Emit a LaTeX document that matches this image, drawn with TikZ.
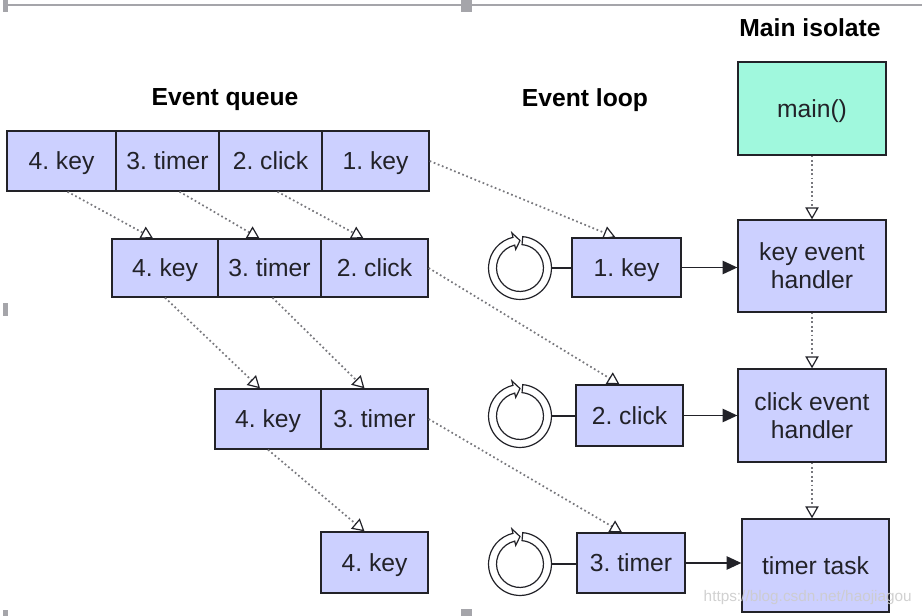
\documentclass[tikz,border=0pt]{standalone}
\usepackage{fontspec}
\setmainfont{Liberation Sans}
\usetikzlibrary{arrows.meta,calc}
\definecolor{qblue}{RGB}{204,208,255}
\definecolor{mint}{RGB}{160,248,221}
\definecolor{ink}{RGB}{34,34,40}
\definecolor{handle}{RGB}{165,165,170}
\definecolor{dots}{RGB}{120,120,125}
\frenchspacing
\newcommand\mkbox[7][cell]{\node[#1, minimum width={(#5-#3)*0.75pt}, minimum height={(#6-#4)*0.75pt}] (#2) at ({(#3+#5)/2},{(#4+#6)/2}) {#7};}
\newcommand\mkring[2]{%
  \node[circle, minimum size=47.25pt, inner sep=0pt] (#1) at (#2) {};
  \begin{scope}[shift={(#1.center)}]
    \draw[ink, line width=0.9pt, fill=white]
      (85:23.6pt) arc[start angle=85, end angle=-257, radius=23.6pt]
      -- (103:27pt) -- (90:20.6pt) -- (103:14.3pt) -- (103:17.6pt)
      arc[start angle=-257, end angle=85, radius=17.6pt] -- cycle;
  \end{scope}}
\begin{document}
\begin{tikzpicture}[x=0.75pt, y=-0.75pt,
  boxbase/.style={draw=ink, line width=1pt, fill=qblue, inner sep=0pt, text=ink,
    font=\fontsize{18.5}{21}\selectfont, align=center},
  cell/.style={boxbase, text height=13.2pt, text depth=0pt},
  twoline/.style={boxbase},
  mainbox/.style={cell, fill=mint},
  title/.style={font=\fontsize{18.5}{21}\selectfont\bfseries, text=black},
  flow/.style={draw=dots, line width=1.3pt, dash pattern=on 1.3pt off 2pt,
    -{Triangle[open, length=9pt, width=10pt, color=ink, line width=0.9pt]}},
  push/.style={draw=ink, line width=1pt, -{Triangle[length=11pt, width=10pt]}},
  link/.style={draw=ink, line width=1pt}]
\useasboundingbox[fill=white] (0,0) rectangle (922,616);
% screenshot frame
\draw[handle, line width=1.6pt] (3,5) -- (922,5);
\fill[handle] (3,0) rectangle (8,12);
\fill[handle] (461,0) rectangle (472,12);
\fill[handle] (3,303) rectangle (8,316);
\fill[handle] (3,610) rectangle (8,616);
\fill[handle] (461,609) rectangle (472,616);
% titles
\node[title] (tq) at (225,100) {Event queue};
\node[title] (tl) at (585,100) {Event loop};
\node[title] (ti) at (810,28) {Main isolate};
% queue rows
\mkbox{a4}{7}{131}{116}{191}{4. key}
\mkbox{a3}{116}{131}{219}{191}{3. timer}
\mkbox{a2}{219}{131}{322}{191}{2. click}
\mkbox{a1}{322}{131}{429}{191}{1. key}
\mkbox{b4}{112}{239}{218}{297}{4. key}
\mkbox{b3}{218}{239}{321}{297}{3. timer}
\mkbox{b2}{321}{239}{428}{297}{2. click}
\mkbox{c4}{215}{389}{321}{449}{4. key}
\mkbox{c3}{321}{389}{428}{449}{3. timer}
\mkbox{d4}{321}{532}{428}{593}{4. key}
% loop
\mkbox{l1}{572}{238}{681}{297}{1. key}
\mkbox{l2}{576}{385}{683}{446}{2. click}
\mkbox{l3}{577}{533}{685}{593}{3. timer}
\mkring{r1}{520,268}
\mkring{r2}{520,416}
\mkring{r3}{520,564}
\draw[link] (r1.east) -- (r1.east -| l1.west);
\draw[link] (r2.east) -- (r2.east -| l2.west);
\draw[link] (r3.east) -- (r3.east -| l3.west);
% isolate
\mkbox[mainbox]{m}{738}{62}{886}{155}{main()}
\mkbox[twoline]{h1}{738}{220}{886}{312}{key event\\handler}
\mkbox[twoline]{h2}{738}{369}{886}{462}{click event\\handler}
\mkbox{h3}{742}{519}{889}{612}{timer task}
\draw[push] (l1.east) -- (l1.east -| h1.west);
\draw[push] (l2.east) -- (l2.east -| h2.west);
\draw[push] (l3.east) -- (l3.east -| h3.west);
% dotted flows
\draw[flow] (a1.east) -- ($(l1.north)+(-11,0)$);
\draw[flow] ($(a4.south)+(6,0)$) -- ($(b4.north)+(-12,0)$);
\draw[flow] ($(a3.south)+(12,0)$) -- ($(b3.north)+(-10,0)$);
\draw[flow] ($(a2.south)+(7,0)$) -- ($(b2.north)+(-11,0)$);
\draw[flow] (b2.east) -- ($(l2.north)+(-10,0)$);
\draw[flow] (b4.south) -- ($(c4.north)+(-8,0)$);
\draw[flow] ($(b3.south)+(3,0)$) -- ($(c3.north)+(-10,0)$);
\draw[flow] (c3.east) -- ($(l3.north)+(-9,0)$);
\draw[flow] (c4.south) -- ($(d4.north)+(-10,0)$);
\draw[flow] (m.south) -- (h1.north);
\draw[flow] (h1.south) -- (h2.north);
\draw[flow] (h2.south) -- (h2.south |- h3.north);
% watermark
\node[anchor=east, inner sep=0pt, text=gray!40, opacity=0.9,
  font=\fontsize{11.5}{13}\selectfont] (wm) at (912,598) {https://blog.csdn.net/haojiagou};
\end{tikzpicture}
\end{document}
